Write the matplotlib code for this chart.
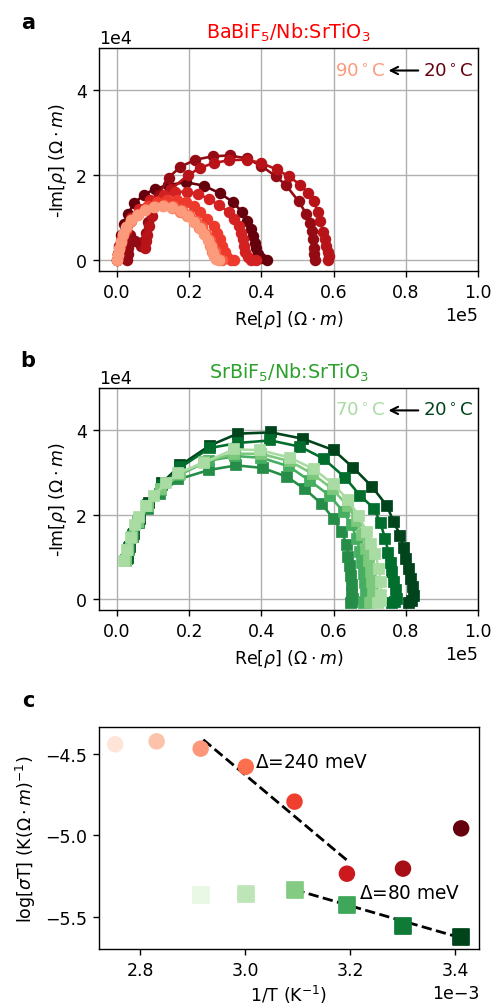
import numpy as np
import matplotlib
matplotlib.use("Agg")
import matplotlib.pyplot as plt

# ---------------- data: panel a (BaBiF5), Re in 1e5 Ohm m, -Im in 1e4 Ohm m
temps_a = [20, 30, 40, 50, 60, 70, 80, 90]

re_a_20 = [0.000, 0.002, 0.005, 0.010, 0.018, 0.030, 0.048, 0.075, 0.105, 0.140, 0.190, 0.240,
           0.285, 0.320, 0.345, 0.360, 0.370, 0.377, 0.382, 0.386, 0.390, 0.400, 0.415]
im_a_20 = [0.00, 0.15, 0.35, 0.60, 0.85, 1.10, 1.35, 1.55, 1.68, 1.77, 1.84, 1.76,
           1.58, 1.38, 1.15, 0.93, 0.75, 0.58, 0.42, 0.28, 0.15, 0.05, 0.00]

re_a_30 = [0.028, 0.029, 0.031, 0.033, 0.036, 0.050, 0.065, 0.075, 0.080, 0.085, 0.095, 0.115,
           0.143, 0.175, 0.217, 0.265, 0.312, 0.360, 0.400, 0.440, 0.468, 0.503, 0.524, 0.535,
           0.540, 0.543, 0.545, 0.545, 0.548]
im_a_30 = [0.00, 0.15, 0.30, 0.45, 0.60, 0.45, 0.35, 0.45, 0.65, 0.90, 1.20, 1.55,
           1.95, 2.20, 2.37, 2.45, 2.47, 2.40, 2.22, 1.98, 1.77, 1.39, 1.10, 0.88,
           0.70, 0.50, 0.30, 0.15, 0.00]

re_a_40 = [0.078, 0.080, 0.083, 0.088, 0.098, 0.120, 0.150, 0.196, 0.230, 0.268, 0.310, 0.360,
           0.400, 0.443, 0.475, 0.508, 0.530, 0.545, 0.556, 0.563, 0.571, 0.577, 0.580, 0.584,
           0.586, 0.584]
im_a_40 = [0.30, 0.45, 0.60, 0.80, 1.05, 1.35, 1.68, 2.00, 2.18, 2.29, 2.36, 2.37,
           2.29, 2.14, 1.98, 1.78, 1.58, 1.39, 1.15, 0.92, 0.67, 0.50, 0.35, 0.20,
           0.10, 0.00]

re_a_50 = [0.000, 0.003, 0.008, 0.015, 0.025, 0.040, 0.060, 0.090, 0.129, 0.160, 0.194, 0.225,
           0.254, 0.283, 0.309, 0.325, 0.337, 0.344, 0.350, 0.352, 0.355, 0.362, 0.372, 0.385]
im_a_50 = [0.00, 0.15, 0.35, 0.55, 0.78, 1.00, 1.22, 1.42, 1.55, 1.61, 1.62, 1.56,
           1.45, 1.30, 1.14, 0.98, 0.82, 0.65, 0.50, 0.35, 0.20, 0.08, 0.02, 0.00]

re_a_60 = [0.000, 0.003, 0.007, 0.014, 0.024, 0.038, 0.058, 0.085, 0.112, 0.139, 0.165, 0.190,
           0.212, 0.231, 0.250, 0.268, 0.278, 0.286, 0.292, 0.298, 0.305, 0.315, 0.325]
im_a_60 = [0.00, 0.15, 0.33, 0.52, 0.72, 0.92, 1.10, 1.27, 1.37, 1.41, 1.41, 1.37,
           1.27, 1.14, 0.98, 0.82, 0.65, 0.50, 0.35, 0.20, 0.08, 0.02, 0.00]

re_a_70 = [0.000, 0.002, 0.005, 0.010, 0.017, 0.027, 0.040, 0.058, 0.080, 0.105, 0.130, 0.155,
           0.180, 0.200, 0.218, 0.234, 0.247, 0.257, 0.264, 0.270, 0.274, 0.280, 0.290]
im_a_70 = [0.00, 0.13, 0.28, 0.45, 0.62, 0.80, 0.96, 1.10, 1.22, 1.29, 1.31, 1.28,
           1.19, 1.07, 0.93, 0.78, 0.63, 0.48, 0.34, 0.21, 0.10, 0.03, 0.00]

re_a_80 = [0.000, 0.002, 0.005, 0.010, 0.016, 0.026, 0.039, 0.056, 0.077, 0.101, 0.126, 0.151,
           0.175, 0.195, 0.212, 0.228, 0.241, 0.251, 0.258, 0.264, 0.268, 0.274, 0.282]
im_a_80 = [0.00, 0.12, 0.27, 0.43, 0.60, 0.77, 0.93, 1.07, 1.18, 1.25, 1.27, 1.24,
           1.15, 1.04, 0.90, 0.76, 0.61, 0.47, 0.33, 0.20, 0.10, 0.03, 0.00]

re_a_90 = [0.000, 0.002, 0.005, 0.010, 0.016, 0.026, 0.039, 0.057, 0.078, 0.102, 0.127, 0.152,
           0.176, 0.196, 0.213, 0.229, 0.242, 0.252, 0.259, 0.265, 0.269, 0.275, 0.283]
im_a_90 = [0.00, 0.12, 0.27, 0.44, 0.61, 0.78, 0.94, 1.08, 1.19, 1.26, 1.28, 1.25,
           1.16, 1.05, 0.91, 0.76, 0.61, 0.47, 0.33, 0.20, 0.10, 0.03, 0.00]

re_a = [re_a_20, re_a_30, re_a_40, re_a_50, re_a_60, re_a_70, re_a_80, re_a_90]
im_a = [im_a_20, im_a_30, im_a_40, im_a_50, im_a_60, im_a_70, im_a_80, im_a_90]

# ---------------- data: panel b (SrBiF5)
temps_b = [20, 30, 40, 50, 60, 70]

re_b_20 = [0.030, 0.035, 0.046, 0.063, 0.088, 0.125, 0.175, 0.257, 0.334, 0.427, 0.515, 0.600,
           0.655, 0.706, 0.748, 0.766, 0.785, 0.794, 0.801, 0.808, 0.814, 0.820, 0.822, 0.818, 0.810]
im_b_20 = [0.98, 1.25, 1.55, 1.90, 2.29, 2.76, 3.17, 3.64, 3.92, 3.95, 3.80, 3.53,
           3.11, 2.67, 2.21, 1.84, 1.51, 1.21, 0.96, 0.72, 0.49, 0.29, 0.09, -0.04, -0.08]

re_b_30 = [0.028, 0.034, 0.045, 0.062, 0.087, 0.124, 0.175, 0.257, 0.334, 0.425, 0.508, 0.572,
           0.632, 0.674, 0.712, 0.730, 0.743, 0.752, 0.758, 0.762, 0.768, 0.772, 0.775, 0.770, 0.763]
im_b_30 = [0.96, 1.22, 1.52, 1.86, 2.24, 2.70, 3.12, 3.58, 3.70, 3.76, 3.61, 3.33,
           2.88, 2.45, 2.15, 1.80, 1.43, 1.10, 0.85, 0.64, 0.42, 0.22, 0.02, -0.06, -0.09]

re_b_40 = [0.026, 0.032, 0.043, 0.060, 0.085, 0.120, 0.170, 0.254, 0.330, 0.403, 0.471, 0.522,
           0.568, 0.600, 0.623, 0.636, 0.641, 0.645, 0.648, 0.650, 0.652, 0.655, 0.652, 0.648]
im_b_40 = [0.94, 1.18, 1.47, 1.80, 2.15, 2.50, 2.84, 3.06, 3.17, 3.11, 2.90, 2.60,
           2.25, 1.90, 1.59, 1.28, 1.00, 0.78, 0.55, 0.35, 0.15, 0.00, -0.06, -0.09]

re_b_50 = [0.025, 0.031, 0.042, 0.059, 0.086, 0.122, 0.173, 0.254, 0.328, 0.400, 0.475, 0.535,
           0.590, 0.628, 0.650, 0.664, 0.674, 0.680, 0.685, 0.688, 0.690, 0.692, 0.688, 0.683]
im_b_50 = [0.93, 1.18, 1.48, 1.83, 2.20, 2.58, 2.95, 3.28, 3.39, 3.35, 3.15, 2.80,
           2.45, 2.06, 1.75, 1.43, 1.11, 0.85, 0.60, 0.38, 0.18, 0.00, -0.06, -0.09]

re_b_60 = [0.024, 0.030, 0.041, 0.058, 0.086, 0.123, 0.175, 0.240, 0.325, 0.400, 0.478, 0.542,
           0.598, 0.640, 0.664, 0.680, 0.691, 0.698, 0.703, 0.706, 0.709, 0.712, 0.707, 0.700]
im_b_60 = [0.92, 1.17, 1.48, 1.83, 2.20, 2.60, 2.97, 3.25, 3.45, 3.44, 3.27, 2.97,
           2.60, 2.20, 1.85, 1.52, 1.20, 0.92, 0.66, 0.42, 0.20, 0.01, -0.06, -0.09]

re_b_70 = [0.020, 0.028, 0.040, 0.050, 0.061, 0.080, 0.102, 0.135, 0.169, 0.240, 0.323, 0.397,
           0.480, 0.545, 0.600, 0.640, 0.669, 0.692, 0.704, 0.716, 0.725, 0.730, 0.732, 0.730, 0.722]
im_b_70 = [0.92, 1.17, 1.45, 1.75, 1.95, 2.20, 2.45, 2.75, 2.99, 3.23, 3.55, 3.53,
           3.35, 3.08, 2.72, 2.35, 1.98, 1.60, 1.32, 1.08, 0.72, 0.41, 0.10, -0.04, -0.09]

re_b = [re_b_20, re_b_30, re_b_40, re_b_50, re_b_60, re_b_70]
im_b = [im_b_20, im_b_30, im_b_40, im_b_50, im_b_60, im_b_70]

# ---------------- data: panel c (Arrhenius), 1/T in 1e-3 K^-1
invT_red = [2.752, 2.831, 2.915, 3.001, 3.094, 3.194, 3.301, 3.412]
logsT_red = [-4.442, -4.424, -4.469, -4.580, -4.794, -5.236, -5.205, -4.958]
invT_green = [2.915, 3.001, 3.094, 3.194, 3.301, 3.412]
logsT_green = [-5.367, -5.361, -5.334, -5.428, -5.557, -5.623]
fit_x_red = [2.920, 3.195]
fit_y_red = [-4.414, -5.156]
fit_x_green = [3.094, 3.412]
fit_y_green = [-5.334, -5.630]

#-------------------------------------------------------------------------
W, H, DPI = 496, 1007, 125
fig = plt.figure(figsize=(W / DPI, H / DPI), dpi=DPI)

def frac(l, t, r, b):
    return [l / W, 1 - b / H, (r - l) / W, (b - t) / H]

ax_a = fig.add_axes(frac(99, 49, 478, 272))
ax_b = fig.add_axes(frac(99, 389, 478, 611))
ax_c = fig.add_axes(frac(99, 728, 479, 950))

cols_a = plt.cm.Reds(np.linspace(1.0, 0.35, len(temps_a)))
cols_b = plt.cm.Greens(np.linspace(1.0, 0.35, len(temps_b)))

for x, y, c in zip(re_a, im_a, cols_a):
    ax_a.plot(np.array(x) * 1e5, np.array(y) * 1e4, '-o', color=c, ms=5.6, lw=1.5)
for x, y, c in zip(re_b, im_b, cols_b):
    ax_b.plot(np.array(x) * 1e5, np.array(y) * 1e4, '-s', color=c, ms=5.4, lw=1.5)

for ax, title, tcol, hot, hcol, ccol in [
        (ax_a, r'BaBiF$_5$/Nb:SrTiO$_3$', 'red', r'90$^\circ$C', cols_a[-1], cols_a[0]),
        (ax_b, r'SrBiF$_5$/Nb:SrTiO$_3$', 'C2', r'70$^\circ$C', cols_b[-1], cols_b[0])]:
    ax.set_xlim(-5000, 100000)
    ax.set_ylim(-2500, 50000)
    ax.set_xticks([0, 20000, 40000, 60000, 80000, 100000])
    ax.set_yticks([0, 20000, 40000])
    ax.ticklabel_format(style='sci', axis='both', scilimits=(0, 0))
    ax.grid(True)
    ax.set_title(title, color=tcol, fontsize=11)
    ax.set_xlabel(r'Re[$\rho$] ($\Omega\cdot m$)')
    ax.set_ylabel(r'-Im[$\rho$] ($\Omega\cdot m$)')
    ax.text(0.605e5, 4.47e4, hot, color=hcol, fontsize=10.5, va='center', ha='left')
    ax.annotate(r'20$^\circ$C', xy=(0.752e5, 4.47e4), xytext=(0.849e5, 4.47e4),
                color=ccol, fontsize=10.5, va='center', ha='left',
                arrowprops=dict(arrowstyle='->', color='k', lw=1.2, shrinkA=1, shrinkB=0))

cols_red = plt.cm.Reds(np.linspace(0.1, 1.0, len(invT_red)))
cols_green = plt.cm.Greens(np.linspace(0.1, 1.0, len(invT_green)))
ax_c.scatter(np.array(invT_red) * 1e-3, logsT_red, c=cols_red, marker='o', s=72, zorder=3)
ax_c.scatter(np.array(invT_green) * 1e-3, logsT_green, c=cols_green, marker='s', s=85, zorder=3)
ax_c.plot(np.array(fit_x_red) * 1e-3, fit_y_red, '--', color='k', lw=1.6)
ax_c.plot(np.array(fit_x_green) * 1e-3, fit_y_green, '--', color='k', lw=1.6)
ax_c.text(3.018e-3, -4.55, r'$\Delta$=240 meV', fontsize=10.7, va='center')
ax_c.text(3.217e-3, -5.35, r'$\Delta$=80 meV', fontsize=10.7, va='center')
ax_c.set_xlim(2.721e-3, 3.446e-3)
ax_c.set_ylim(-5.698, -4.336)
ax_c.set_xticks([2.8e-3, 3.0e-3, 3.2e-3, 3.4e-3])
ax_c.set_yticks([-4.5, -5.0, -5.5])
ax_c.ticklabel_format(style='sci', axis='x', scilimits=(0, 0))
ax_c.set_xlabel(r'1/T (K$^{-1}$)', labelpad=2)
ax_c.set_ylabel(r'log[$\sigma$T] (K($\Omega\cdot m$)$^{-1}$)')

for lab, yy in [('a', 23), ('b', 361), ('c', 701)]:
    fig.text(28 / W, 1 - yy / H, lab, fontsize=12, fontweight='bold', ha='center', va='center')

fig.savefig('out.png', dpi=DPI)
